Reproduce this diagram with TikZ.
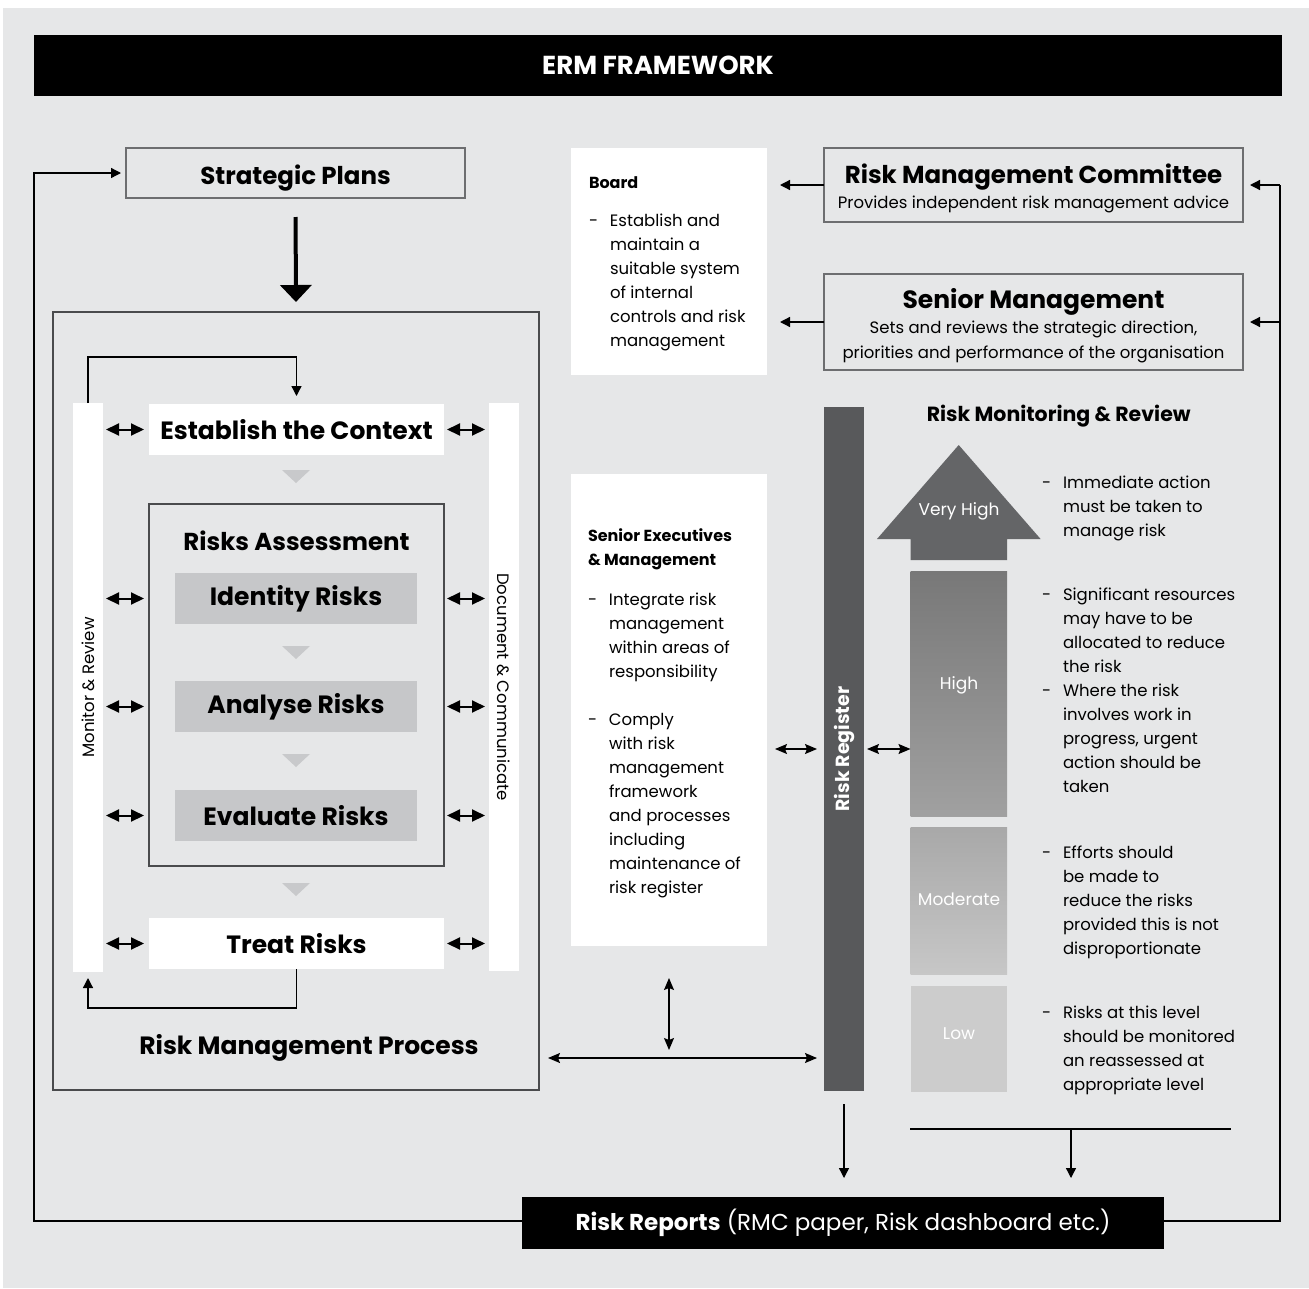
\documentclass[tikz,border=0pt]{standalone}
\usepackage{fontspec}
\setmainfont{Poppins}
\usetikzlibrary{arrows.meta}
\definecolor{bg}{HTML}{E6E7E8}
\definecolor{frame}{HTML}{6D6E70}
\definecolor{darkframe}{HTML}{4A4B4D}
\definecolor{stepgray}{HTML}{C6C7C9}
\definecolor{tri}{HTML}{C8C9CB}
\definecolor{regbar}{HTML}{58595B}
\definecolor{vhigh}{HTML}{646567}
\newcommand\fs[2]{\fontsize{#1}{#2}\selectfont}
\newcommand\bl[1]{\makebox[21pt][l]{-}#1}
\newcommand\cl[1]{\hspace*{21pt}#1}
\begin{document}
\begin{tikzpicture}[x=1pt,y=-1pt,
  box/.style={rectangle,inner sep=0pt,outer sep=0pt},
  txt/.style={inner sep=0pt,outer sep=0pt,align=left,anchor=north west,font=\fs{16.5}{24}},
  stepname/.style={font=\fs{25}{28}\bfseries},
  arr/.style={draw=black,line width=1.3pt,-{Triangle[length=10pt,width=10pt]}},
  bigarr/.style={draw=black,line width=4pt,-{Triangle[length=17pt,width=31pt]}},
  dbl/.style={draw=black,line width=1.2pt,{Stealth[length=12pt,width=10pt,inset=2pt]}-{Stealth[length=12pt,width=10pt,inset=2pt]}},
  blk/.style={draw=black,line width=2pt,{Triangle[length=13pt,width=12pt]}-{Triangle[length=13pt,width=12pt]}},
  wire/.style={draw=black,line width=1.2pt},
  stepbox/.style={box,fill=stepgray,minimum width=242pt,minimum height=51pt,stepname},
  lvl/.style={box,minimum width=96.5pt},
  lvlname/.style={text=white,font=\fs{17}{20}},
]
\useasboundingbox (0,0) rectangle (1309,1288);
\fill[bg] (3,8) rectangle (1309,1288);

% header
\node[box,fill=black,minimum width=1248pt,minimum height=61pt,text=white,font=\fs{26}{30}\bfseries] (header) at (658,65.5) {ERM FRAMEWORK};

% strategic plans and the process frame
\node[box,draw=frame,line width=1.5pt,minimum width=339pt,minimum height=50pt,font=\fs{24.5}{28}\bfseries,text height=24pt,text depth=2pt] (strat) at (295.5,173) {Strategic Plans};
\node[box,draw=darkframe,line width=1.5pt,minimum width=486pt,minimum height=778pt] (rmp) at (296,701) {};
\node[font=\fs{25}{28}\bfseries,inner sep=0pt] (rmplbl) at (309,1048) {Risk Management Process};
\draw[bigarr,shorten <=19pt,shorten >=10pt] (strat.south) -- (rmp.north);

% side bars
\node[box,fill=white,minimum width=30pt,minimum height=569pt] (mon) at (88,687.5) {};
\node[rotate=90,font=\fs{16.5}{20},inner sep=0pt] (monlbl) at (mon.center) {Monitor \& Review};
\node[box,fill=white,minimum width=30pt,minimum height=568pt] (doc) at (504,687) {};
\node[rotate=-90,font=\fs{16.5}{20},inner sep=0pt] (doclbl) at (doc.center) {Document \& Communicate};

% process steps
\node[box,fill=white,minimum width=295pt,minimum height=51pt,stepname] (est) at (296.5,429.5) {Establish the Context};
\node[box,draw=darkframe,line width=1.2pt,minimum width=295pt,minimum height=362pt] (assess) at (296.5,685) {};
\node[font=\fs{24.5}{28}\bfseries,inner sep=0pt] (assesslbl) at (296.5,541) {Risks Assessment};
\node[stepbox] (idr) at (296,598.5) {Identity Risks};
\node[stepbox] (ana) at (296,706.5) {Analyse Risks};
\node[stepbox] (eva) at (296,815.5) {Evaluate Risks};
\node[box,fill=white,minimum width=295pt,minimum height=51pt,stepname] (treat) at (296.5,943.5) {Treat Risks};

% flow markers between the steps
\foreach \t in {470,646,754,883}
  \fill[tri] (282,\t) -- (310,\t) -- (296,\t+13) -- cycle;

% links to the side bars
\draw[blk,shorten <=3pt,shorten >=5pt] (mon.east |- est.west) -- (est.west);
\draw[blk,shorten <=3pt,shorten >=4pt] (est.east) -- (doc.west |- est.east);
\foreach \s in {idr,ana,eva}{
  \draw[blk,shorten <=3pt,shorten >=5pt] (mon.east |- \s.west) -- (assess.west |- \s.west);
  \draw[blk,shorten <=3pt,shorten >=4pt] (assess.east |- \s.east) -- (doc.west |- \s.east);
}
\draw[blk,shorten <=3pt,shorten >=5pt] (mon.east |- treat.west) -- (treat.west);
\draw[blk,shorten <=3pt,shorten >=4pt] (treat.east) -- (doc.west |- treat.east);

% feedback loops of the process
\draw[arr,shorten >=8pt] (mon.north) -- ++(0,-46) -| (est.north);
\draw[arr,shorten >=6pt] (treat.south) -- ++(0,39) -| (mon.south);

% governance boxes
\node[box,fill=white,minimum width=196pt,minimum height=227pt] (board) at (669,261.5) {};
\node[txt] (boardtxt) at (589,172) {\strut{\fs{16}{24}\bfseries Board}\\[14pt]
  \bl{Establish and}\\ \cl{maintain a}\\ \cl{suitable system}\\ \cl{of internal}\\ \cl{controls and risk}\\ \cl{management}};

\node[box,draw=frame,line width=1.5pt,minimum width=419pt,minimum height=74pt,align=center,font=\fs{16.5}{25}] (rmc) at (1033.5,185)
  {\rule{0pt}{25.5pt}{\fs{24.5}{25}\bfseries Risk Management Committee}\\ Provides independent risk management advice};
\node[box,draw=frame,line width=1.5pt,minimum width=419pt,minimum height=96pt,align=center,font=\fs{16.5}{25}] (sm) at (1033.5,322)
  {\rule{0pt}{28pt}{\fs{25}{25}\bfseries Senior Management}\\ Sets and reviews the strategic direction,\\ priorities and performance of the organisation};
\draw[arr,shorten >=13pt] (rmc.west) -- (rmc.west -| board.east);
\draw[arr,shorten >=13pt] (sm.west) -- (sm.west -| board.east);

\node[box,fill=white,minimum width=196pt,minimum height=472pt] (se) at (669,710) {};
\node[txt] (setxt) at (588,525) {\strut{\fs{16}{23}\bfseries Senior Executives}\\ {\fs{16}{23}\bfseries \& Management}\\[16pt]
  \bl{Integrate risk}\\ \cl{management}\\ \cl{within areas of}\\ \cl{responsibility}\\[24pt]
  \bl{Comply}\\ \cl{with risk}\\ \cl{management}\\ \cl{framework}\\ \cl{and processes}\\ \cl{including}\\ \cl{maintenance of}\\ \cl{risk register}};

% risk register and levels
\node[box,fill=regbar,minimum width=40pt,minimum height=684pt] (rr) at (844,749) {};
\node[rotate=90,text=white,font=\fs{19}{22}\bfseries,inner sep=0pt] (rrlbl) at (rr.center) {Risk Register};
\node[font=\fs{20.5}{24}\bfseries,inner sep=0pt] (rmrlbl) at (1058.7,416) {Risk Monitoring \& Review};

\fill[vhigh] (958.7,445) -- (1040.6,539) -- (1007,539) -- (1007,560) -- (910.5,560) -- (910.5,539) -- (877,539) -- cycle;
\node[lvlname,inner sep=0pt] (vh) at (959,511) {Very High};
\node[lvl,minimum height=245pt,top color=black!53,bottom color=black!37] (high) at (958.75,693.5) {};
\node[lvlname,inner sep=0pt] (highlbl) at (959,685) {High};
\node[lvl,minimum height=147pt,top color=black!34,bottom color=black!22] (mod) at (958.75,900.5) {};
\node[lvlname,inner sep=0pt] (modlbl) at (959,899) {Moderate};
\node[lvl,minimum height=106pt,fill=black!20] (low) at (958.75,1039) {};
\node[lvlname,inner sep=0pt] (lowlbl) at (959,1034) {Low};

\node[txt] (vhtxt) at (1042,472) {\strut\bl{Immediate action}\\ \cl{must be taken to}\\ \cl{manage risk}};
\node[txt] (hightxt) at (1042,584) {\strut\bl{Significant resources}\\ \cl{may have to be}\\ \cl{allocated to reduce}\\ \cl{the risk}\\
  \bl{Where the risk}\\ \cl{involves work in}\\ \cl{progress, urgent}\\ \cl{action should be}\\ \cl{taken}};
\node[txt] (modtxt) at (1042,842) {\strut\bl{Efforts should}\\ \cl{be made to}\\ \cl{reduce the risks}\\ \cl{provided this is not}\\ \cl{disproportionate}};
\node[txt] (lowtxt) at (1042,1002) {\strut\bl{Risks at this level}\\ \cl{should be monitored}\\ \cl{an reassessed at}\\ \cl{appropriate level}};

% exchanges with the risk register
\coordinate (ym) at (0,749);
\coordinate (yb) at (0,1058);
\draw[dbl,shorten <=8pt,shorten >=7pt] (se.east |- ym) -- (rr.west |- ym);
\draw[dbl,shorten <=3pt] (rr.east |- ym) -- (high.west |- ym);
\draw[dbl,shorten <=9pt,shorten >=7pt] (rmp.east |- yb) -- (rr.west |- yb);
\draw[dbl,shorten <=32pt,shorten >=8pt] (se.south) -- (se.south |- yb);

% reporting
\node[box,fill=black,minimum width=642pt,minimum height=52pt,text=white,font=\fs{23}{27}] (reports) at (843,1223)
  {{\bfseries Risk Reports} (RMC paper, Risk dashboard etc.)};
\draw[arr,shorten <=13pt,shorten >=19pt] (rr.south) -- (rr.south |- reports.north);
\coordinate (hl) at (910,1129);
\coordinate (hr) at (1231,1129);
\coordinate (hm) at (1071,1129);
\draw[wire] (hl) -- (hr);
\draw[arr,shorten >=19pt] (hm) -- (hm |- reports.north);

% report feedback to planning and governance
\coordinate (ybot) at (0,1221);
\coordinate (lcorner) at (34,173);
\draw[arr,shorten >=5pt] (reports.west |- ybot) -| (lcorner) -- (strat.west);
\coordinate (rtop) at (1280,185);
\coordinate (rmid) at (1280,322);
\draw[wire] (reports.east |- ybot) -| (rtop);
\draw[arr,shorten >=7pt] (rtop) -- (rmc.east);
\draw[arr,shorten >=7pt] (rmid) -- (sm.east);
\end{tikzpicture}
\end{document}
